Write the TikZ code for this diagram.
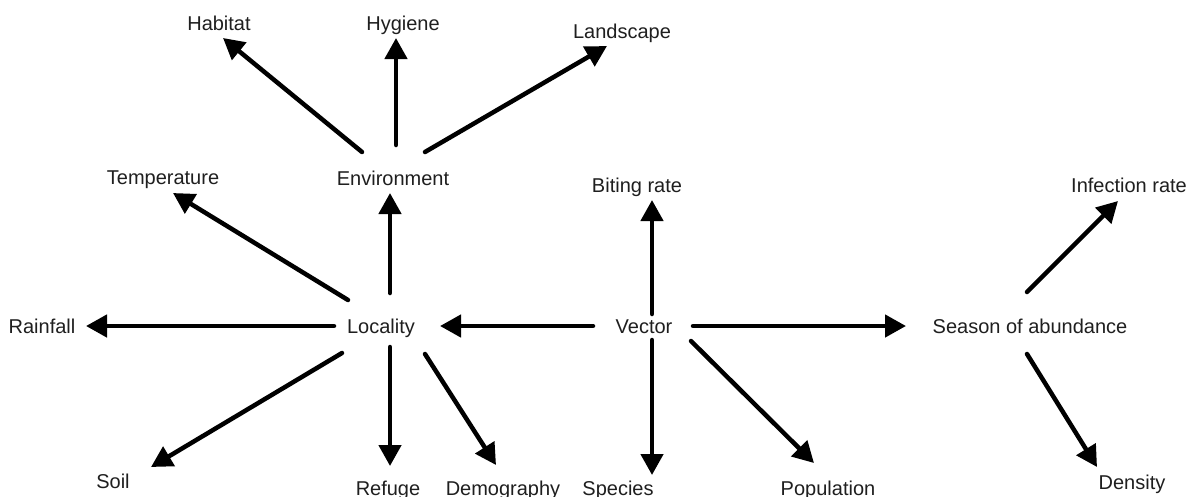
\documentclass[tikz,border=0pt]{standalone}
\usepackage{fontspec}
\setmainfont{Liberation Sans}
\usetikzlibrary{arrows.meta,calc}
\tikzset{
  lbl/.style={inner sep=0pt, text height=14.3pt, text depth=0pt, anchor=center, text=black!88,
              font=\fontsize{20}{24}\selectfont},
  arr/.style={line width=4.5pt, line cap=round, -{Triangle[width=22pt,length=21pt]}}
}
\begin{document}
\begin{tikzpicture}[x=1pt,y=-1pt]
\useasboundingbox (0,0) rectangle (1188,496);
\fill[white] (0,0) rectangle (1188,496);
% nodes
\node[lbl] (hab)  at (219,23)  {Habitat};
\node[lbl] (hyg)  at (403,23)  {Hygiene};
\node[lbl] (land) at (622,31)  {Landscape};
\node[lbl] (temp) at (163,177) {Temperature};
\node[lbl] (env)  at (393,178) {Environment};
\node[lbl] (bite) at (637,185) {Biting rate};
\node[lbl] (inf)  at (1129,185) {Infection rate};
\node[lbl] (rain) at (42,326)  {Rainfall};
\node[lbl] (loc)  at (381,326) {Locality};
\node[lbl] (vec)  at (644,326) {Vector};
\node[lbl] (sea)  at (1030,326) {Season of abundance};
\node[lbl] (soil) at (113,481) {Soil};
\node[lbl] (ref)  at (388,488) {Refuge};
\node[lbl] (demo) at (503,488) {Demography};
\node[lbl] (spec) at (618,488) {Species};
\node[lbl] (pop)  at (828,488) {Population};
\node[lbl] (dens) at (1132,482) {Density};
% connectors
\draw[arr] ($(env)+(-31,-26)$) -- ($(hab)+(4,15)$);
\draw[arr] ($(env)+(3,-33)$)   -- ($(hyg)+(-7,15)$);
\draw[arr] ($(env)+(32,-26)$)  -- ($(land)+(-15,15)$);
\draw[arr] ($(loc)+(9,-33)$)   -- ($(env)+(-3,15)$);
\draw[arr] ($(loc)+(-33,-26)$) -- ($(temp)+(10,16)$);
\draw[arr] ($(loc)+(-47,0)$)   -- ($(rain)+(44,0)$);
\draw[arr] ($(loc)+(-39,27)$)  -- ($(soil)+(38,-14)$);
\draw[arr] ($(loc)+(9,21)$)    -- ($(ref)+(2,-22)$);
\draw[arr] ($(loc)+(44,28)$)   -- ($(demo)+(-7,-23)$);
\draw[arr] ($(vec)+(-51,0)$)   -- ($(loc)+(59,0)$);
\draw[arr] ($(vec)+(8,-12)$)   -- ($(bite)+(15,15)$);
\draw[arr] ($(vec)+(8,14)$)    -- ($(spec)+(34,-13)$);
\draw[arr] ($(vec)+(47,15)$)   -- ($(pop)+(-14,-25)$);
\draw[arr] ($(vec)+(49,0)$)    -- ($(sea)+(-124,0)$);
\draw[arr] ($(sea)+(-3,-34)$)  -- ($(inf)+(-11,16)$);
\draw[arr] ($(sea)+(-3,28)$)   -- ($(dens)+(-35,-15)$);
\end{tikzpicture}
\end{document}
